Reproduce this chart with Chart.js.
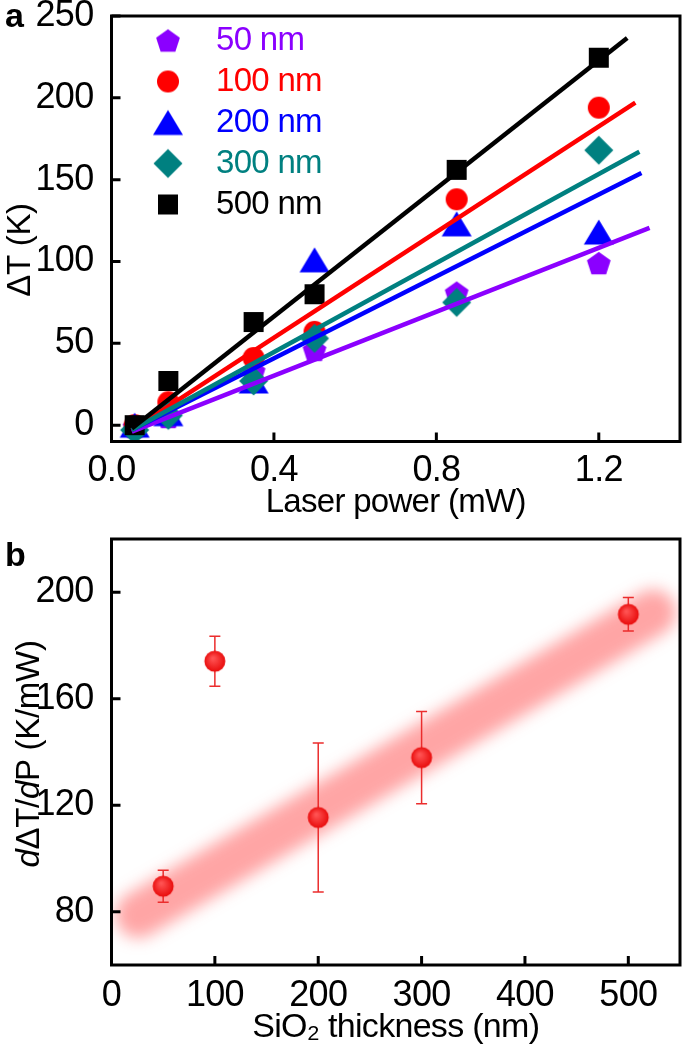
<!DOCTYPE html>
<html>
<head>
<meta charset="utf-8">
<script src="https://cdn.jsdelivr.net/npm/chart.js@4.4.1/dist/chart.umd.min.js"></script>
<style>
  html, body { margin: 0; padding: 0; background: #fff; }
  #wrap { position: relative; width: 685px; height: 1054px; }
  #chartA { position: absolute; left: 0; top: 0; }
  #chartB { position: absolute; left: 0; top: 520px; }
</style>
</head>
<body>
<div id="wrap">
  <canvas id="chartA" width="685" height="520"></canvas>
  <canvas id="chartB" width="685" height="534"></canvas>
</div>
<script>
// ---- panel a : temperature rise vs laser power ----
const powers = [0.057, 0.14, 0.35, 0.5, 0.85, 1.2];
const thicknessLabels = ["50 nm", "100 nm", "200 nm", "300 nm", "500 nm"];
const dT50 = [-1, 5, 33, 46, 81, 99];
const dT100 = [0, 14, 41, 57, 138, 194];
const dT200 = [0, 7, 27, 101, 123, 118];
const dT300 = [-3, 6, 27, 53, 75, 168];
const dT500 = [0, 27, 63, 80, 156, 224.5];
// linear fits, [start, end]
const fitPower = [[0.05, 1.325], [0.05, 1.29], [0.05, 1.305], [0.05, 1.30], [0.05, 1.27]];
const fitDT = [[-4, 120.5], [-3, 197], [-3, 154], [-3, 167], [-2, 236.5]];
const powerTicks = [0, 0.4, 0.8, 1.2];
const dTTicks = [0, 50, 100, 150, 200, 250];

// ---- panel b : slope vs SiO2 thickness ----
const thickness = [50, 100, 200, 300, 500];
const slope = [89.6, 174.1, 115.4, 137.9, 191.7];
const slopeErr = [6, 9.4, 28, 17.3, 6.3];
const trendX = [26, 524];
const trendY = [78.8, 192.4];
const thickTicks = [0, 100, 200, 300, 400, 500];
const slopeTicks = [80, 120, 160, 200];

const colors = ["#8b00ff", "#ff0000", "#0000ff", "#008080", "#000000"];
const shapes = ["pentagon", "circle", "triangle", "diamond", "square"];

Chart.defaults.font.family = "'Liberation Sans', Arial, sans-serif";
Chart.defaults.color = "#000";

function makeMarker(shape, color) {
  const c = document.createElement("canvas");
  c.width = 32; c.height = 32;
  const g = c.getContext("2d");
  g.fillStyle = color;
  g.translate(16, 16);
  g.beginPath();
  if (shape === "circle") {
    g.arc(0, 0, 11, 0, Math.PI * 2);
  } else if (shape === "square") {
    g.rect(-10, -10, 20, 20);
  } else if (shape === "diamond") {
    g.moveTo(0, -14.5); g.lineTo(14.5, 0); g.lineTo(0, 14.5); g.lineTo(-14.5, 0);
  } else if (shape === "triangle") {
    g.moveTo(0, -12.5); g.lineTo(15, 12.5); g.lineTo(-15, 12.5);
  } else {
    const R = 12.5;
    for (let i = 0; i < 5; i++) {
      const a = -Math.PI / 2 + i * 2 * Math.PI / 5;
      const px = R * Math.cos(a), py = R * Math.sin(a) + 1.2;
      i ? g.lineTo(px, py) : g.moveTo(px, py);
    }
  }
  g.closePath();
  g.fill();
  return c;
}

function makeDot() {
  const c = document.createElement("canvas");
  c.width = 26; c.height = 26;
  const g = c.getContext("2d");
  const grad = g.createRadialGradient(11, 10, 1, 13, 13, 11);
  grad.addColorStop(0, "#ff5252");
  grad.addColorStop(1, "#e80a0a");
  g.fillStyle = grad;
  g.beginPath();
  g.arc(13, 13, 10.5, 0, Math.PI * 2);
  g.fill();
  return c;
}

// box frame, inward ticks, rotated y title and panel letter
const framePlugin = {
  id: "frame",
  afterLayout(chart, args, opts) {
    const lg = chart.legend;
    if (opts.legendShift !== undefined && lg) {
      lg.left = chart.chartArea.left + opts.legendShift;
      lg.top = chart.chartArea.top;
      lg.bottom = chart.chartArea.bottom;
    }
  },
  beforeDraw(chart) {
    chart.ctx.letterSpacing = "-0.7px";
  },
  beforeDatasetsDraw(chart) {
    chart.ctx.letterSpacing = "0px";
  },
  beforeDatasetDraw(chart, args) {
    const ds = chart.data.datasets[args.index];
    if (ds.blur) chart.ctx.filter = "blur(" + ds.blur + "px)";
    if (ds.errors) {
      const ctx = chart.ctx, xs = chart.scales.x, ys = chart.scales.y;
      ctx.save();
      ctx.strokeStyle = "rgb(235,45,45)";
      ctx.lineWidth = 1.5;
      ds.data.forEach((p, i) => {
        const x = xs.getPixelForValue(p.x);
        const top = ys.getPixelForValue(p.y + ds.errors[i]);
        const bot = ys.getPixelForValue(p.y - ds.errors[i]);
        ctx.beginPath();
        ctx.moveTo(x, top); ctx.lineTo(x, bot);
        ctx.moveTo(x - 5.5, top); ctx.lineTo(x + 5.5, top);
        ctx.moveTo(x - 5.5, bot); ctx.lineTo(x + 5.5, bot);
        ctx.stroke();
      });
      ctx.restore();
    }
  },
  afterDatasetDraw(chart, args) {
    if (chart.data.datasets[args.index].blur) chart.ctx.filter = "none";
  },
  afterDraw(chart, args, opts) {
    const ctx = chart.ctx;
    const {left, right, top, bottom} = chart.chartArea;
    ctx.save();
    ctx.strokeStyle = "#000";
    ctx.lineWidth = 3;
    ctx.beginPath();
    chart.scales.x.ticks.forEach(t => {
      const px = chart.scales.x.getPixelForValue(t.value);
      ctx.moveTo(px, bottom); ctx.lineTo(px, bottom - 9);
    });
    chart.scales.y.ticks.forEach(t => {
      const py = chart.scales.y.getPixelForValue(t.value);
      ctx.moveTo(left, py); ctx.lineTo(left + 9, py);
    });
    ctx.stroke();
    ctx.strokeRect(left, top, right - left, bottom - top);

    // y title, pieces may be italic
    ctx.fillStyle = "#000";
    ctx.textBaseline = "middle";
    ctx.textAlign = "left";
    ctx.letterSpacing = "-0.3px";
    ctx.translate(opts.titleX, opts.titleY);
    ctx.rotate(-Math.PI / 2);
    const fam = Chart.defaults.font.family;
    let total = 0;
    opts.title.forEach(p => {
      ctx.font = (p.italic ? "italic " : "") + "33px " + fam;
      p.w = ctx.measureText(p.text).width;
      total += p.w;
    });
    let x = -total / 2;
    opts.title.forEach(p => {
      ctx.font = (p.italic ? "italic " : "") + "33px " + fam;
      ctx.fillText(p.text, x, 0);
      x += p.w;
    });
    ctx.restore();

    ctx.save();
    ctx.fillStyle = "#000";
    ctx.font = "bold 34px " + fam;
    ctx.textBaseline = "alphabetic";
    ctx.fillText(opts.letter, opts.letterX, opts.letterY);
    ctx.restore();
  }
};

function fixTicks(values) {
  return scale => { scale.ticks = values.map(v => ({value: v})); };
}

// ---------- chart a ----------
const markers = shapes.map((s, i) => makeMarker(s, colors[i]));
const seriesA = [dT50, dT100, dT200, dT300, dT500];
const datasetsA = [];
fitPower.forEach((xs, i) => {
  datasetsA.push({
    type: "line",
    label: "fit " + thicknessLabels[i],
    data: xs.map((x, j) => ({x: x, y: fitDT[i][j]})),
    borderColor: colors[i],
    borderWidth: 4.5,
    pointRadius: 0,
    order: 5 - i
  });
});
seriesA.forEach((ys, i) => {
  datasetsA.push({
    type: "scatter",
    label: thicknessLabels[i],
    data: powers.map((x, j) => ({x: x, y: ys[j]})),
    pointStyle: markers[i],
    backgroundColor: colors[i],
    borderColor: colors[i],
    order: 20 - i
  });
});

new Chart(document.getElementById("chartA"), {
  type: "scatter",
  data: { datasets: datasetsA },
  options: {
    responsive: false,
    animation: false,
    layout: { padding: { top: 16, right: 2, left: 0, bottom: 0 } },
    scales: {
      x: {
        type: "linear", min: 0, max: 1.4,
        afterBuildTicks: fixTicks(powerTicks),
        afterFit: s => { s.height = 78.5; s.paddingLeft = 0; s.paddingRight = 0; },
        grid: { display: false }, border: { display: false },
        ticks: { font: { size: 36 }, padding: 0, callback: v => v.toFixed(1) },
        title: { display: true, text: "Laser power (mW)", font: { size: 33, lineHeight: 1 }, padding: { top: 0, bottom: 1 } }
      },
      y: {
        min: -10, max: 250,
        afterBuildTicks: fixTicks(dTTicks),
        afterFit: s => { s.width = 111.5; s.paddingTop = 0; s.paddingBottom = 0; },
        grid: { display: false }, border: { display: false },
        ticks: { font: { size: 36 }, padding: 10 }
      }
    },
    plugins: {
      tooltip: { enabled: false },
      legend: {
        position: "chartArea",
        align: "start",
        labels: {
          usePointStyle: true,
          pointStyleWidth: 63,
          padding: 8,
          font: { size: 33 },
          generateLabels: () => thicknessLabels.map((t, i) => ({
            text: t, fontColor: colors[i], fillStyle: colors[i], strokeStyle: colors[i],
            lineWidth: 0, pointStyle: markers[i], hidden: false, datasetIndex: 5 + i
          }))
        }
      },
      frame: {
        legendShift: 17,
        titleX: 21, titleY: 250,
        title: [{text: "\u0394T (K)"}],
        letter: "a", letterX: 5, letterY: 27
      }
    }
  },
  plugins: [framePlugin]
});

// ---------- chart b ----------
new Chart(document.getElementById("chartB"), {
  type: "scatter",
  data: {
    datasets: [
      {
        type: "line",
        label: "trend",
        data: trendX.map((x, i) => ({x: x, y: trendY[i]})),
        borderColor: "rgba(255,75,75,0.5)",
        borderWidth: 46,
        borderCapStyle: "round",
        pointRadius: 0,
        blur: 8,
        order: 3
      },
      {
        type: "scatter",
        label: "d\u0394T/dP",
        data: thickness.map((x, i) => ({x: x, y: slope[i]})),
        errors: slopeErr,
        pointStyle: makeDot(),
        backgroundColor: "#f01010",
        order: 1
      }
    ]
  },
  options: {
    responsive: false,
    animation: false,
    layout: { padding: { top: 19, right: 2, left: 0, bottom: 0 } },
    scales: {
      x: {
        type: "linear", min: 0, max: 550,
        afterBuildTicks: fixTicks(thickTicks),
        afterFit: s => { s.height = 89; s.paddingLeft = 0; s.paddingRight = 0; },
        grid: { display: false }, border: { display: false },
        ticks: { font: { size: 36 }, padding: 1 },
        title: { display: true, text: "SiO\u2082 thickness (nm)", font: { size: 34, lineHeight: 1 }, padding: { top: 0, bottom: 9 } }
      },
      y: {
        min: 60, max: 220,
        afterBuildTicks: fixTicks(slopeTicks),
        afterFit: s => { s.width = 111.5; s.paddingTop = 0; s.paddingBottom = 0; },
        grid: { display: false }, border: { display: false },
        ticks: { font: { size: 36 }, padding: 10 }
      }
    },
    plugins: {
      tooltip: { enabled: false },
      legend: { display: false },
      frame: {
        titleX: 30, titleY: 234,
        title: [{text: "d", italic: true}, {text: "\u0394T/"}, {text: "d", italic: true}, {text: "P (K/mW)"}],
        letter: "b", letterX: 5, letterY: 46
      }
    }
  },
  plugins: [framePlugin]
});
</script>
</body>
</html>
